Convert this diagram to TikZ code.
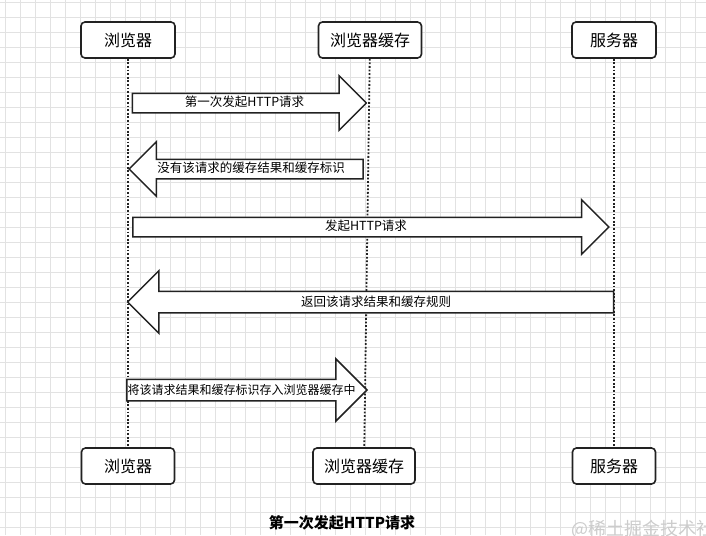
\documentclass[tikz,border=0pt]{standalone}
\usepackage{fontspec}
\setmainfont{Noto Sans CJK SC}
\usetikzlibrary{shapes,arrows,positioning}
\definecolor{edge}{RGB}{34,34,34}
\definecolor{gridgray}{RGB}{226,226,226}

\begin{document}
\begin{tikzpicture}[x=1pt, y=-1pt, every node/.style={font=\fontsize{12.5}{14}\selectfont},
  gridline/.style={draw=gridgray, line width=0.8pt},
  actor/.style={rectangle, rounded corners=4pt, draw=edge, line width=1.6pt, fill=white, minimum height=36pt, font=\fontsize{16}{18}\selectfont},
  lifeline/.style={draw=edge, line width=1.8pt, dash pattern=on 1.8pt off 1.8pt},
  msg/.style={single arrow, draw=edge, line width=1.5pt, fill=white, text height=10pt, text depth=3pt, inner ysep=2.5pt, inner xsep=0pt, single arrow head extend=17.5pt},
  back/.style={msg, shape border rotate=180}]
\clip (0,0) rectangle (706,535);
\fill[white] (0,0) rectangle (706,535);
\foreach \gx in {5,20,...,705} \draw[gridline] (\gx,0) -- (\gx,535);
\foreach \gy in {2,17,...,532} \draw[gridline] (0,\gy) -- (706,\gy);

\node (browser) [actor, minimum width=94pt] at (128,40) {浏览器};
\node (cache) [actor, minimum width=103pt] at (370,40) {浏览器缓存};
\node (server) [actor, minimum width=84pt] at (614,40) {服务器};
\node (browserEnd) [actor, minimum width=93pt] at (128,466) {浏览器};
\node (cacheEnd) [actor, minimum width=102pt] at (364,466) {浏览器缓存};
\node (serverEnd) [actor, minimum width=83pt] at (614,466) {服务器};

\draw [lifeline] (browser) -- (browserEnd);
\draw [lifeline] (cache) -- (cacheEnd);
\draw [lifeline] (server) -- (serverEnd);

\node (ask) [msg, minimum height=234pt] at (244.5,103) {第一次发起HTTP请求};
\node (miss) [back, minimum height=234pt] at (251,169) {没有该请求的缓存结果和缓存标识};
\node (fetch) [msg, minimum height=476pt] at (366,227) {发起HTTP请求};
\node (reply) [back, minimum height=486pt, single arrow head extend=20.5pt, text height=11pt, inner ysep=3pt] at (376,302) {返回该请求结果和缓存规则};
\node (store) [msg, minimum height=239pt, single arrow head extend=20.5pt, text height=11pt, inner ysep=3pt, font=\fontsize{12}{14}\selectfont] at (241.5,390) {将该请求结果和缓存标识存入浏览器缓存中};

\node (caption) [font=\bfseries\fontsize{15}{17}\selectfont] at (342,523) {第一次发起HTTP请求};
\node (mark) [anchor=west, text=gray!40, font=\fontsize{18}{20}\selectfont] at (568,529) {@稀土掘金技术社区};
\end{tikzpicture}
\end{document}
